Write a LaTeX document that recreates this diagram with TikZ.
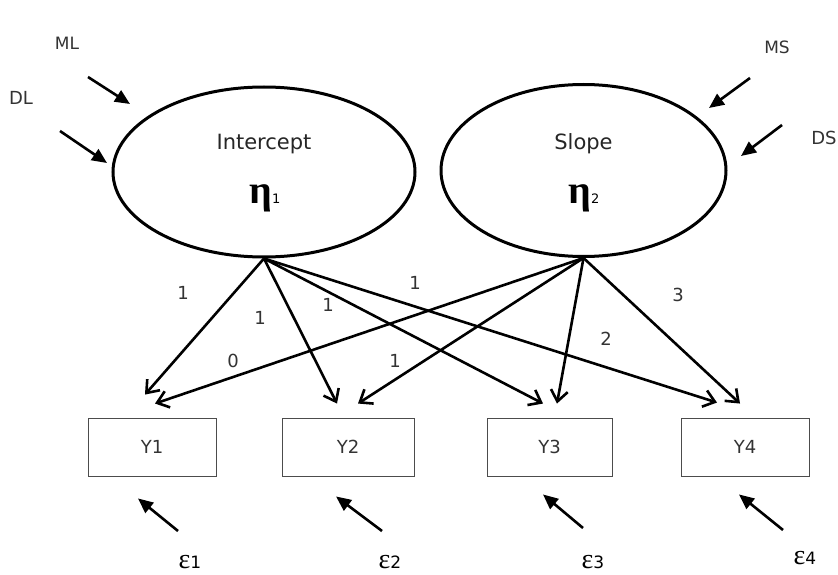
\documentclass[tikz,border=0pt]{standalone}
\usepackage{fontspec}
\setmainfont{DejaVu Sans}
\newfontfamily\grkfont{Liberation Serif}
\usetikzlibrary{shapes.geometric,arrows.meta}

\begin{document}
\begin{tikzpicture}[x=1pt,y=-1pt,
  latent/.style={ellipse,draw,line width=3pt,inner sep=0pt},
  obsbox/.style={rectangle,draw=black!70,line width=0.9pt,minimum height=58pt,
    inner sep=0pt,text=black!80,font=\fontsize{18}{21}\selectfont},
  lab/.style={text=black!80,inner sep=1pt,font=\fontsize{18}{21}\selectfont},
  biglab/.style={text=black!85,inner sep=1pt,font=\fontsize{21}{25}\selectfont},
  srclab/.style={text=black!80,inner sep=1pt,font=\fontsize{17}{20}\selectfont},
  load/.style={line width=2.6pt,
    -{Straight Barb[length=11pt,width=17pt,line width=2.6pt]}},
  feed/.style={line width=2.6pt,-{Triangle[length=15pt,width=13pt]}},
  errlab/.style={inner sep=0pt},
]
\useasboundingbox (0,0) rectangle (838,575);
\fill[white] (0,0) rectangle (838,575);

% latent growth factors
\node[latent,minimum width=302pt,minimum height=170pt] (I) at (264,172) {};
\node[latent,minimum width=285pt,minimum height=172pt] (S) at (583.5,170.5) {};
\node[biglab] (It) at (264,144) {Intercept};
\node[biglab] (St) at (583.5,144) {Slope};
\node[inner sep=0pt] (eta1) at (265,198)
  {{\grkfont\bfseries\fontsize{40}{42}\selectfont η}{\fontsize{13}{15}\selectfont 1}};
\node[inner sep=0pt] (eta2) at (584,198)
  {{\grkfont\bfseries\fontsize{40}{42}\selectfont η}{\fontsize{13}{15}\selectfont 2}};

% observed measures
\node[obsbox,minimum width=128pt] (Y1) at (152,447) {Y1};
\node[obsbox,minimum width=132pt] (Y2) at (348,447) {Y2};
\node[obsbox,minimum width=125pt] (Y3) at (549.5,447) {Y3};
\node[obsbox,minimum width=128pt] (Y4) at (745,447) {Y4};

% loadings of the intercept factor
\draw[load] (I.south) -- ([xshift=-7pt,yshift=23pt]Y1.north);
\draw[load] (I.south) -- ([xshift=-11pt,yshift=14pt]Y2.north);
\draw[load] (I.south) -- ([xshift=-6.5pt,yshift=14pt]Y3.north);
\draw[load] (I.south) -- ([xshift=-28pt,yshift=15pt]Y4.north);
% loadings of the slope factor
\draw[load] (S.south) -- ([xshift=3pt,yshift=14pt]Y1.north);
\draw[load] (S.south) -- ([xshift=10pt,yshift=14pt]Y2.north);
\draw[load] (S.south) -- ([xshift=7.5pt,yshift=14pt]Y3.north);
\draw[load] (S.south) -- ([xshift=-5pt,yshift=14pt]Y4.north);

% loading values
\node[lab] (l11) at (183,293) {1};
\node[lab] (l12) at (260,318) {1};
\node[lab] (l13) at (328,305) {1};
\node[lab] (l14) at (415,283) {1};
\node[lab] (l21) at (233,361) {0};
\node[lab] (l22) at (395,361) {1};
\node[lab] (l23) at (606,339) {2};
\node[lab] (l24) at (678,295) {3};

% factor means and disturbances
\node[srclab] (ML) at (67,43) {ML};
\node[srclab,font=\fontsize{18}{21}\selectfont] (DL) at (21,98) {DL};
\node[srclab] (MS) at (777,47) {MS};
\node[srclab,font=\fontsize{18}{21}\selectfont] (DS) at (824,138) {DS};
\draw[feed] ([shift={(21,34)}]ML.center) -- ([shift={(-134,-68)}]I.center);
\draw[feed] ([shift={(39,33)}]DL.center) -- ([shift={(-157,-9)}]I.center);
\draw[feed] ([shift={(-27,31)}]MS.center) -- ([shift={(125.5,-62.5)}]S.center);
\draw[feed] ([shift={(-42,-13)}]DS.center) -- ([shift={(157.5,-14.5)}]S.center);

% measurement errors
\node[errlab] (e1) at (190,562)
  {{\grkfont\fontsize{28}{30}\selectfont ε}{\fontsize{17}{19}\selectfont 1}};
\node[errlab] (e2) at (390,562)
  {{\grkfont\fontsize{28}{30}\selectfont ε}{\fontsize{17}{19}\selectfont 2}};
\node[errlab] (e3) at (593,562)
  {{\grkfont\fontsize{28}{30}\selectfont ε}{\fontsize{17}{19}\selectfont 3}};
\node[errlab] (e4) at (805,558)
  {{\grkfont\fontsize{28}{30}\selectfont ε}{\fontsize{17}{19}\selectfont 4}};
\draw[feed] ([shift={(-12,-31)}]e1.center) -- ([shift={(-14,22)}]Y1.south);
\draw[feed] ([shift={(-8,-31)}]e2.center) -- ([shift={(-12,20)}]Y2.south);
\draw[feed] ([shift={(-10,-34)}]e3.center) -- ([shift={(-6.5,18)}]Y3.south);
\draw[feed] ([shift={(-22,-28)}]e4.center) -- ([shift={(-6,18)}]Y4.south);
\end{tikzpicture}
\end{document}
